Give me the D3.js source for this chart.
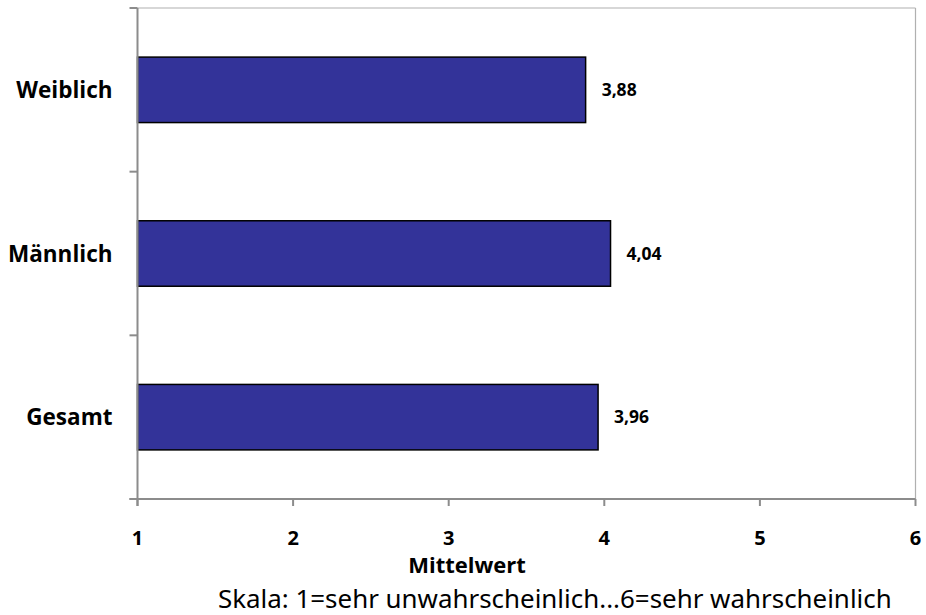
<!DOCTYPE html>
<html>
<head>
<meta charset="utf-8">
<script src="https://cdn.jsdelivr.net/npm/d3@7"></script>
<style>
  html, body { margin: 0; padding: 0; background: #fff; }
  svg { display: block; }
</style>
</head>
<body>
<svg id="chart" width="926" height="615"></svg>
<script>
const categories = ["Weiblich", "Männlich", "Gesamt"];
const values = [3.88, 4.04, 3.96];
const valueLabels = ["3,88", "4,04", "3,96"];
const xTicks = [1, 2, 3, 4, 5, 6];
const xTitle = "Mittelwert";
const note = "Skala: 1=sehr unwahrscheinlich...6=sehr wahrscheinlich";

const svg = d3.select("#chart");
const pLeft = 137.5, pRight = 915.5, pTop = 8, pBottom = 499;

const x = d3.scaleLinear().domain([1, 6]).range([pLeft, pRight]);
const y = d3.scaleBand().domain(categories).range([pTop, pBottom]).paddingInner(0.6).paddingOuter(0.3);
const yOuter = d3.scaleBand().domain(categories).range([pTop, pBottom]);

// plot border (top & right)
svg.append("line").attr("x1", pLeft).attr("x2", pRight).attr("y1", pTop).attr("y2", pTop)
  .attr("stroke", "#b0b0b0").attr("stroke-width", 1.2);
svg.append("line").attr("x1", pRight).attr("x2", pRight).attr("y1", pTop).attr("y2", pBottom)
  .attr("stroke", "#b0b0b0").attr("stroke-width", 1.2);

// bars
svg.selectAll("rect.bar").data(categories).enter().append("rect")
  .attr("class", "bar")
  .attr("x", x(1))
  .attr("y", d => y(d))
  .attr("width", (d, i) => x(values[i]) - x(1))
  .attr("height", y.bandwidth())
  .attr("fill", "#333399")
  .attr("stroke", "#000")
  .attr("stroke-width", 1.5);

// value labels
svg.selectAll("text.val").data(categories).enter().append("text")
  .attr("class", "val")
  .attr("x", (d, i) => x(values[i]) + 16)
  .attr("y", d => y(d) + y.bandwidth() / 2)
  .attr("dy", "0.36em")
  .attr("font-family", "'Open Sans', sans-serif")
  .attr("font-weight", "bold")
  .attr("font-size", 17.5)
  .attr("fill", "#000")
  .text((d, i) => valueLabels[i]);

// y axis
const yAxisG = svg.append("g");
yAxisG.append("line").attr("x1", pLeft).attr("x2", pLeft).attr("y1", pTop).attr("y2", pBottom + 7)
  .attr("stroke", "#8c8c8c").attr("stroke-width", 2);
const yBoundaries = categories.map(d => yOuter(d)).concat([pBottom]);
yAxisG.selectAll("line.tick").data(yBoundaries).enter().append("line")
  .attr("class", "tick")
  .attr("x1", pLeft - 8).attr("x2", pLeft).attr("y1", d => d).attr("y2", d => d)
  .attr("stroke", "#8c8c8c").attr("stroke-width", 2);
yAxisG.selectAll("text").data(categories).enter().append("text")
  .attr("x", pLeft - 25)
  .attr("y", d => yOuter(d) + yOuter.bandwidth() / 2)
  .attr("dy", "0.36em")
  .attr("text-anchor", "end")
  .attr("font-family", "'Open Sans', sans-serif")
  .attr("font-weight", "bold")
  .attr("font-size", 22.5)
  .attr("fill", "#000")
  .text(d => d);

// x axis
const xAxisG = svg.append("g");
xAxisG.append("line").attr("x1", pLeft - 8).attr("x2", pRight).attr("y1", pBottom).attr("y2", pBottom)
  .attr("stroke", "#8c8c8c").attr("stroke-width", 2);
xAxisG.selectAll("line.tick").data(xTicks).enter().append("line")
  .attr("class", "tick")
  .attr("x1", d => x(d)).attr("x2", d => x(d)).attr("y1", pBottom).attr("y2", pBottom + 7)
  .attr("stroke", "#8c8c8c").attr("stroke-width", 2);
xAxisG.selectAll("text").data(xTicks).enter().append("text")
  .attr("x", d => x(d))
  .attr("y", 538)
  .attr("dy", "0.36em")
  .attr("text-anchor", "middle")
  .attr("font-family", "'Open Sans', sans-serif")
  .attr("font-weight", "bold")
  .attr("font-size", 20)
  .attr("fill", "#000")
  .text(d => d);

// axis title
svg.append("text")
  .attr("x", 467).attr("y", 565).attr("dy", "0.36em")
  .attr("text-anchor", "middle")
  .attr("font-family", "'Open Sans', sans-serif")
  .attr("font-weight", "bold")
  .attr("font-size", 22)
  .attr("fill", "#000")
  .text(xTitle);

// note
const noteText = svg.append("text")
  .attr("x", 218).attr("y", 599).attr("dy", "0.36em")
  .attr("font-family", "'Noto Sans', sans-serif")
  .attr("font-size", 24)
  .attr("fill", "#000")
  .text(note);
const len = noteText.node().getComputedTextLength();
noteText.attr("font-size", 24 * 674 / len);
</script>
</body>
</html>
